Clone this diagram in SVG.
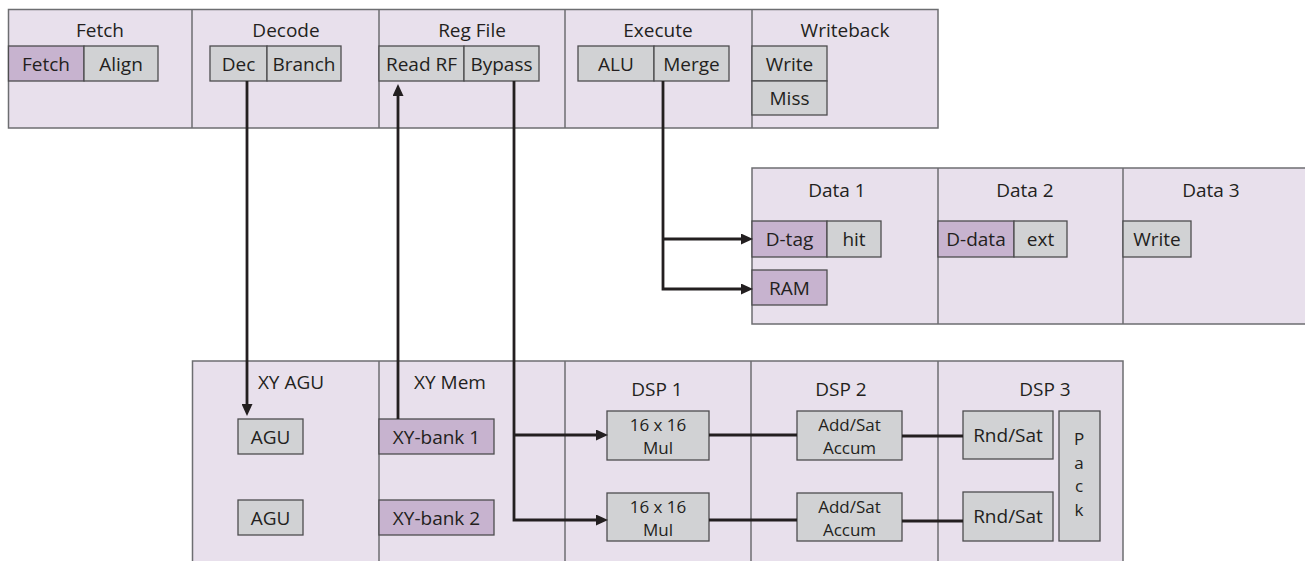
<svg xmlns="http://www.w3.org/2000/svg" width="1305" height="561" viewBox="0 0 1305 561">
<defs>
<style>
.band{fill:#e8e0ec;stroke:#6d6e71;stroke-width:1.5}
.div{stroke:#6d6e71;stroke-width:1.5;fill:none}
.g{fill:#d1d2d4;stroke:#4d4d4f;stroke-width:1.3}
.p{fill:#c7b3cf;stroke:#4d4d4f;stroke-width:1.3}
text{font-family:"Open Sans","Noto Sans","Liberation Sans",sans-serif;font-size:19px;fill:#231f20;text-anchor:middle}
text.t2{font-size:17px}
.c{fill:none;stroke:#231f20;stroke-width:2.8}
</style>
<marker id="ah" markerUnits="userSpaceOnUse" markerWidth="12" markerHeight="11" viewBox="0 0 12 11" refX="5" refY="5.5" orient="auto">
<path d="M0,0 L12,5.5 L0,11 z" fill="#231f20"/>
</marker>
</defs>

<g id="band-top">
<rect class="band" x="8.5" y="9.5" width="929.5" height="118.5"/>
<path class="div" d="M192,9.5V128 M379,9.5V128 M565,9.5V128 M752,9.5V128"/>
</g>
<g id="band-data">
<rect class="band" x="752" y="168" width="560" height="156"/>
<path class="div" d="M938,168V324 M1123,168V324"/>
</g>
<g id="band-bottom">
<rect class="band" x="192.5" y="361" width="930.5" height="210"/>
<path class="div" d="M379,361V561 M565,361V561 M751,361V561 M938,361V561"/>
</g>

<g id="stage-fetch">
<text x="100" y="37">Fetch</text>
<g id="fetch-fetch"><rect class="p" x="8.5" y="46" width="75.5" height="35"/><text x="46" y="71">Fetch</text></g>
<g id="fetch-align"><rect class="g" x="84" y="46" width="74" height="35"/><text x="121" y="71">Align</text></g>
</g>
<g id="stage-decode">
<text x="286" y="37">Decode</text>
<g id="decode-dec"><rect class="g" x="210" y="46" width="57" height="35"/><text x="238.5" y="71">Dec</text></g>
<g id="decode-branch"><rect class="g" x="267" y="46" width="74" height="35"/><text x="304" y="71">Branch</text></g>
</g>
<g id="stage-regfile">
<text x="472" y="37">Reg File</text>
<g id="regfile-read"><rect class="g" x="379" y="46" width="85" height="35"/><text x="421.5" y="71">Read RF</text></g>
<g id="regfile-bypass"><rect class="g" x="464" y="46" width="75" height="35"/><text x="501.5" y="71">Bypass</text></g>
</g>
<g id="stage-execute">
<text x="658" y="37">Execute</text>
<g id="execute-alu"><rect class="g" x="578" y="46" width="76" height="35"/><text x="616" y="71">ALU</text></g>
<g id="execute-merge"><rect class="g" x="654" y="46" width="75" height="35"/><text x="691.5" y="71">Merge</text></g>
</g>
<g id="stage-writeback">
<text x="845" y="37">Writeback</text>
<g id="wb-write"><rect class="g" x="752" y="46" width="75" height="35"/><text x="789.5" y="71">Write</text></g>
<g id="wb-miss"><rect class="g" x="752" y="81" width="75" height="34"/><text x="789.5" y="105">Miss</text></g>
</g>

<g id="stage-data1">
<text x="837" y="197">Data 1</text>
<g id="data1-dtag"><rect class="p" x="752" y="221" width="75" height="36"/><text x="789.5" y="246">D-tag</text></g>
<g id="data1-hit"><rect class="g" x="827" y="221" width="54" height="36"/><text x="854" y="246">hit</text></g>
<g id="data1-ram"><rect class="p" x="752" y="270" width="75" height="35"/><text x="789.5" y="295">RAM</text></g>
</g>
<g id="stage-data2">
<text x="1025" y="197">Data 2</text>
<g id="data2-ddata"><rect class="p" x="938" y="221" width="76" height="36"/><text x="976" y="246">D-data</text></g>
<g id="data2-ext"><rect class="g" x="1014" y="221" width="53" height="36"/><text x="1040.5" y="246">ext</text></g>
</g>
<g id="stage-data3">
<text x="1211" y="197">Data 3</text>
<g id="data3-write"><rect class="g" x="1123" y="221" width="68" height="36"/><text x="1157" y="246">Write</text></g>
</g>

<g id="stage-xyagu">
<text x="291" y="389">XY AGU</text>
<g id="agu1"><rect class="g" x="238" y="419" width="65" height="35"/><text x="270.5" y="444">AGU</text></g>
<g id="agu2"><rect class="g" x="238" y="500" width="65" height="35"/><text x="270.5" y="525">AGU</text></g>
</g>
<g id="stage-xymem">
<text x="450" y="389">XY Mem</text>
<g id="xybank1"><rect class="p" x="379" y="419" width="115" height="35"/><text x="436.5" y="444">XY-bank 1</text></g>
<g id="xybank2"><rect class="p" x="379" y="500" width="115" height="35"/><text x="436.5" y="525">XY-bank 2</text></g>
</g>
<g id="stage-dsp1">
<text x="657" y="396">DSP 1</text>
<g id="mul1"><rect class="g" x="607" y="411" width="102" height="49"/><text class="t2" x="658" y="430.5">16 x 16<tspan x="658" dy="23.5">Mul</tspan></text></g>
<g id="mul2"><rect class="g" x="607" y="493" width="102" height="48"/><text class="t2" x="658" y="512.5">16 x 16<tspan x="658" dy="23.5">Mul</tspan></text></g>
</g>
<g id="stage-dsp2">
<text x="841" y="396">DSP 2</text>
<g id="acc1"><rect class="g" x="797" y="411" width="105" height="49"/><text class="t2" x="849.5" y="430.5">Add/Sat<tspan x="849.5" dy="23.5">Accum</tspan></text></g>
<g id="acc2"><rect class="g" x="797" y="493" width="105" height="48"/><text class="t2" x="849.5" y="512.5">Add/Sat<tspan x="849.5" dy="23.5">Accum</tspan></text></g>
</g>
<g id="stage-dsp3">
<text x="1045" y="396">DSP 3</text>
<g id="rnd1"><rect class="g" x="963" y="411" width="90" height="48"/><text x="1008" y="442">Rnd/Sat</text></g>
<g id="rnd2"><rect class="g" x="963" y="492" width="90" height="49"/><text x="1008" y="523">Rnd/Sat</text></g>
<g id="pack"><rect class="g" x="1059" y="411" width="41" height="130"/>
<text class="t2" x="1079" y="445">P<tspan x="1079" dy="23.5">a</tspan><tspan x="1079" dy="23.5">c</tspan><tspan x="1079" dy="23.5">k</tspan></text></g>
</g>

<g id="connectors">
<path class="c" d="M247,81V409" marker-end="url(#ah)"/>
<path class="c" d="M398,419V91" marker-end="url(#ah)"/>
<path class="c" d="M514,81V520H601" marker-end="url(#ah)"/>
<path class="c" d="M514,435H601" marker-end="url(#ah)"/>
<path class="c" d="M663,81V289H746" marker-end="url(#ah)"/>
<path class="c" d="M663,239H746" marker-end="url(#ah)"/>
<path class="c" d="M709,435H797 M709,520H797"/>
<path class="c" d="M902,436H963 M902,521H963"/>
</g>
</svg>
